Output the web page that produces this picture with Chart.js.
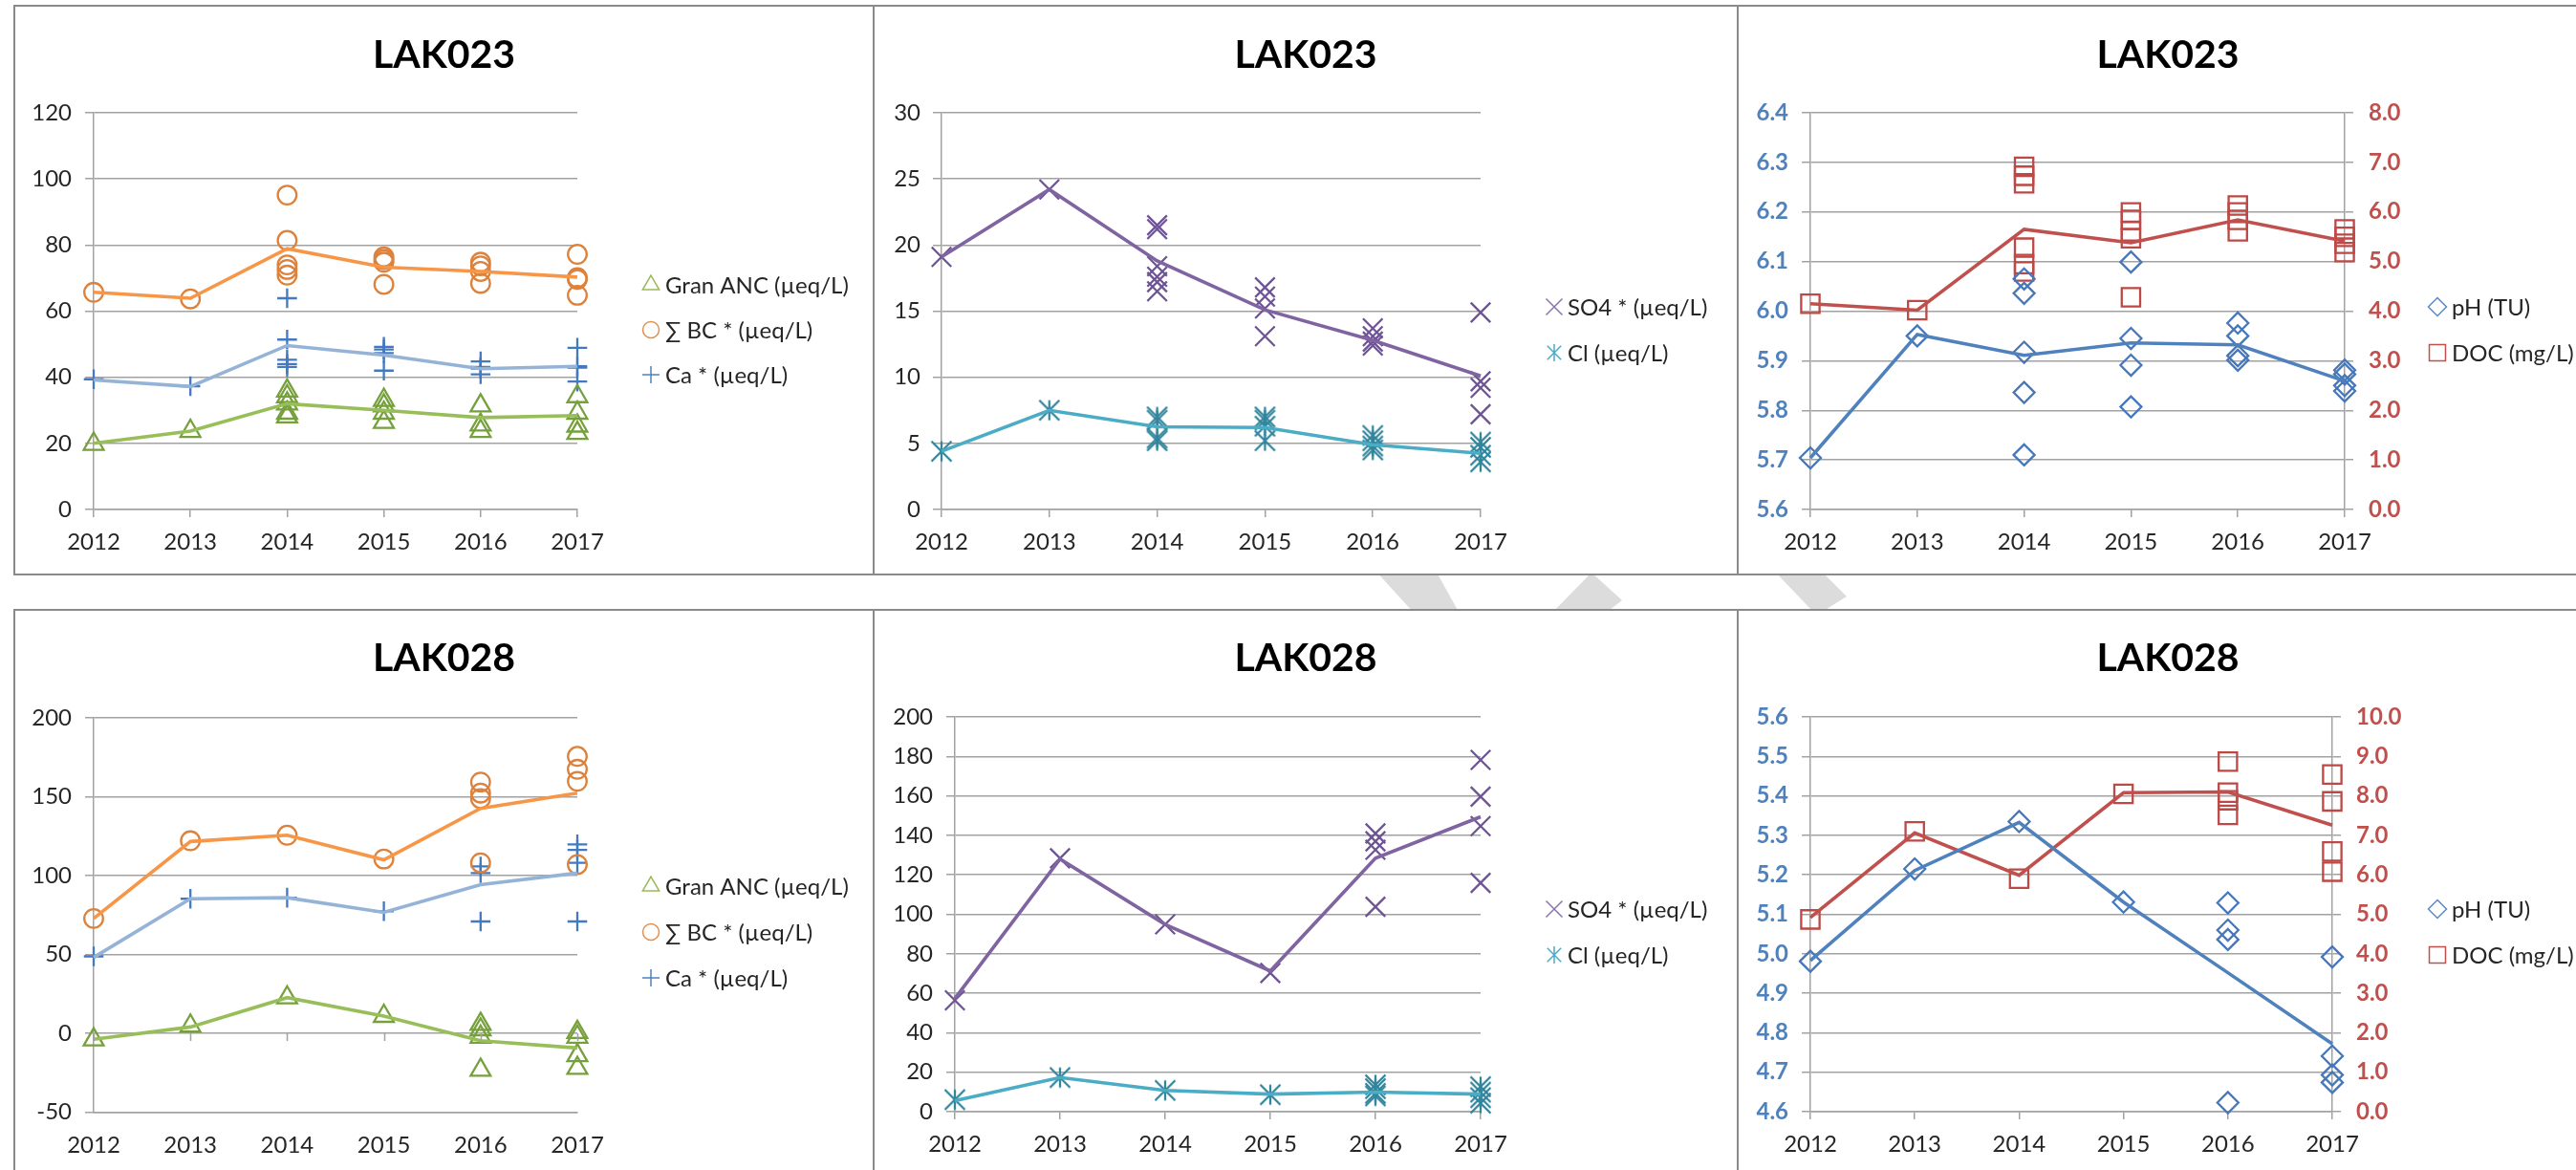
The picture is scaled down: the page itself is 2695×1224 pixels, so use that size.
<!DOCTYPE html>
<html>
<head>
<meta charset="utf-8">
<title>LAK023 / LAK028 water chemistry 2012–2017</title>
<script src="https://cdn.jsdelivr.net/npm/chart.js@4.4.0/dist/chart.umd.min.js"></script>
<style>
  html, body { margin: 0; padding: 0; background: #ffffff; }
  body { width: 2695px; height: 1224px; position: relative; overflow: hidden; }
  #mark { position: absolute; left: 0; top: 0; }
  .panel { position: absolute; border: 2px solid #8a8a8a; background: #ffffff; }
  .panel canvas { display: block; }
</style>
</head>
<body>
<svg id="mark" width="2695" height="1224">
  <g fill="#dcdcdc">
    <polygon points="1437,595 1501,595 1527,642 1480,642"/>
    <polygon points="1665,599 1697,628 1679,642 1623,642"/>
    <polygon points="1854,595 1903,595 1932,624 1903,642 1899,642"/>
  </g>
</svg>
<div class="panel" style="left:14px;top:5px;"><canvas id="c1" width="897" height="593"></canvas></div>
<div class="panel" style="left:913px;top:5px;"><canvas id="c2" width="902" height="593"></canvas></div>
<div class="panel" style="left:1817px;top:5px;"><canvas id="c3" width="898" height="593"></canvas></div>
<div class="panel" style="left:14px;top:637px;"><canvas id="c4" width="897" height="600"></canvas></div>
<div class="panel" style="left:913px;top:637px;"><canvas id="c5" width="902" height="600"></canvas></div>
<div class="panel" style="left:1817px;top:637px;"><canvas id="c6" width="898" height="600"></canvas></div>

<script>
// ---- Sampling years ----
const years = [2012, 2013, 2014, 2015, 2016, 2017];

// ---- LAK023: individual samples per year and annual mean line ----
const lak023AncSamples = [[19.8], [23.7], [35.9, 34.2, 32.0, 29.2, 28.1], [33.1, 31.4, 29.2, 26.4], [31.4, 25.6, 23.7], [34.2, 29.2, 25.3, 23.1]];
const lak023AncLine    = [20.0, 23.7, 32.0, 30.0, 27.8, 28.4];
const lak023BcSamples  = [[65.7], [63.7], [95.1, 81.4, 74.0, 72.6, 70.9], [76.4, 75.6, 74.8, 68.1], [74.8, 73.7, 72.0, 68.4], [77.2, 70.1, 69.6, 64.8]];
const lak023BcLine     = [65.7, 63.9, 78.9, 73.3, 72.0, 70.3];
const lak023CaSamples  = [[39.4], [37.3], [63.9, 51.4, 45.3, 44.0, 43.1], [49.2, 48.4, 47.3, 42.0], [44.8, 43.1, 42.6, 40.9], [48.9, 43.3, 42.9, 38.7]];
const lak023CaLine     = [39.2, 37.2, 49.6, 46.7, 42.6, 43.3];

const lak023So4Samples = [[19.1], [24.2], [21.5, 21.2, 18.4, 17.6, 17.2, 16.5], [16.8, 16.1, 15.2, 13.1], [13.7, 13.1, 12.7, 12.4], [14.9, 9.7, 9.2, 7.2]];
const lak023So4Line    = [19.1, 24.2, 18.8, 15.1, 12.8, 10.1];
const lak023ClSamples  = [[4.4], [7.5], [7.0, 6.75, 5.4, 5.2], [7.0, 6.75, 6.3, 5.2], [5.6, 5.2, 4.8, 4.5], [5.1, 4.7, 4.1, 3.6]];
const lak023ClLine     = [4.4, 7.5, 6.25, 6.2, 4.9, 4.25];

const lak023PhSamples  = [[5.704], [5.950], [6.065, 6.036, 5.917, 5.836, 5.710], [6.099, 5.945, 5.891, 5.807], [5.976, 5.950, 5.910, 5.901], [5.881, 5.873, 5.850, 5.839]];
const lak023PhLine     = [5.704, 5.953, 5.911, 5.936, 5.932, 5.859];
const lak023DocSamples = [[4.15], [4.02], [6.91, 6.73, 6.58, 5.28, 4.95, 4.80], [5.99, 5.84, 5.61, 5.47, 4.28], [6.13, 5.99, 5.84, 5.61], [5.65, 5.50, 5.36, 5.19]];
const lak023DocLine    = [4.15, 4.02, 5.65, 5.38, 5.84, 5.41];

// ---- LAK028 ----
const lak028AncSamples = [[-4.0], [4.7], [22.6], [10.9], [5.8, 2.3, -2.3, -23.3], [0.7, -2.3, -14.0, -22.1]];
const lak028AncLine    = [-3.8, 4.0, 22.6, 10.9, -4.7, -9.3];
const lak028BcSamples  = [[72.8], [122.1], [125.6], [110.5], [159.3, 152.3, 148.8, 108.1], [175.6, 167.4, 159.8, 107.0]];
const lak028BcLine     = [72.8, 121.6, 125.6, 110.0, 142.6, 152.3];
const lak028CaSamples  = [[48.8], [85.3], [86.0], [77.4], [105.8, 101.6, 70.9], [119.8, 116.3, 108.1, 70.9]];
const lak028CaLine     = [48.1, 85.3, 86.0, 76.7, 94.2, 101.6];

const lak028So4Samples = [[56.4], [128.4], [94.9], [70.3], [141.0, 137.0, 132.7, 103.8], [178.2, 159.6, 144.7, 115.9]];
const lak028So4Line    = [57.3, 128.0, 94.9, 71.3, 128.4, 149.4];
const lak028ClSamples  = [[6.1], [17.3], [10.8], [8.6], [13.6, 11.7, 9.3, 8.0], [12.7, 9.9, 7.1, 4.3]];
const lak028ClLine     = [5.6, 17.3, 10.8, 8.9, 9.9, 8.9];

const lak028PhSamples  = [[4.981], [5.215], [5.335], [5.131], [5.129, 5.060, 5.036, 4.623], [4.992, 4.741, 4.693, 4.674]];
const lak028PhLine     = [4.983, 5.211, 5.333, 5.131, 4.952, 4.772];
const lak028DocSamples = [[4.87], [7.10], [5.90], [8.05], [8.87, 8.08, 7.89, 7.52], [8.54, 7.86, 6.59, 6.08]];
const lak028DocLine    = [4.92, 7.06, 5.99, 8.08, 8.10, 7.26];

// ---- Legend labels ----
const labelAnc = 'Gran ANC (µeq/L)';
const labelBc  = '∑ BC * (µeq/L)';
const labelCa  = 'Ca * (µeq/L)';
const labelSo4 = 'SO4 * (µeq/L)';
const labelCl  = 'Cl (µeq/L)';
const labelPh  = 'pH (TU)';
const labelDoc = 'DOC (mg/L)';

// ---- Styling ----
const FONT = "Lato, 'Open Sans', 'DejaVu Sans', sans-serif";
const GRID = '#a2a2a2';
const TEXT = '#262626';

// Excel-style "star" marker: an X with a vertical bar through it
function starMarker(color, r, lw) {
  const s = Math.ceil(2 * r + 2 * lw + 2);
  const c = document.createElement('canvas');
  c.width = s; c.height = s;
  const g = c.getContext('2d');
  const m = s / 2;
  g.strokeStyle = color; g.lineWidth = lw;
  g.beginPath();
  g.moveTo(m, m - r); g.lineTo(m, m + r);
  g.moveTo(m - r, m - r); g.lineTo(m + r, m + r);
  g.moveTo(m + r, m - r); g.lineTo(m - r, m + r);
  g.stroke();
  return c;
}

const STYLE = {
  anc: { shape: 'triangle', r: 12,   marker: '#76A03C', line: '#98BE5A', legend: '#9BBB59' },
  bc:  { shape: 'circle',   r: 9.8,  marker: '#DC823C', line: '#F79646', legend: '#E2904E' },
  ca:  { shape: 'cross',    r: 10.3, marker: '#4279C0', line: '#95B3D7', legend: '#4F81BD' },
  so4: { shape: 'crossRot', r: 14.5, marker: '#6E5494', line: '#8064A2', legend: '#8B74AC' },
  cl:  { shape: 'star',     r: 10.5, marker: '#31859C', line: '#4BACC6', legend: '#4BACC6' },
  ph:  { shape: 'rectRot',  r: 11,   marker: '#4677BA', line: '#4F81BD', legend: '#5B8AC4' },
  doc: { shape: 'rect',     r: 13.6, marker: '#BC4946', line: '#C0504D', legend: '#C0504D' }
};

function samplePoints(samples) {
  return samples.flatMap((vals, i) => vals.map(v => ({ x: years[i], y: v })));
}
function linePoints(vals) {
  return vals.map((v, i) => ({ x: years[i], y: v }));
}

// Outline marker used for the side legend
function drawMarker(ctx, shape, x, y, r, color, lw) {
  ctx.save();
  ctx.strokeStyle = color; ctx.lineWidth = lw;
  ctx.beginPath();
  const d = r * Math.SQRT1_2;
  switch (shape) {
    case 'triangle':
      ctx.moveTo(x, y - r); ctx.lineTo(x + 0.866 * r, y + 0.5 * r); ctx.lineTo(x - 0.866 * r, y + 0.5 * r); ctx.closePath(); break;
    case 'circle':
      ctx.arc(x, y, r, 0, Math.PI * 2); break;
    case 'cross':
      ctx.moveTo(x - r, y); ctx.lineTo(x + r, y); ctx.moveTo(x, y - r); ctx.lineTo(x, y + r); break;
    case 'crossRot':
      ctx.moveTo(x - d, y - d); ctx.lineTo(x + d, y + d); ctx.moveTo(x + d, y - d); ctx.lineTo(x - d, y + d); break;
    case 'star':
      ctx.moveTo(x, y - r); ctx.lineTo(x, y + r);
      ctx.moveTo(x - r * 0.8, y - r * 0.8); ctx.lineTo(x + r * 0.8, y + r * 0.8);
      ctx.moveTo(x + r * 0.8, y - r * 0.8); ctx.lineTo(x - r * 0.8, y + r * 0.8); break;
    case 'rectRot':
      ctx.moveTo(x, y - r); ctx.lineTo(x + r, y); ctx.lineTo(x, y + r); ctx.lineTo(x - r, y); ctx.closePath(); break;
    case 'rect':
      ctx.rect(x - d, y - d, 2 * d, 2 * d); break;
  }
  ctx.stroke();
  ctx.restore();
}

function seriesDatasets(key, samples, line, label, axis) {
  const st = STYLE[key];
  const pointStyle = st.shape === 'star' ? starMarker(st.marker, st.r, 2.3) : st.shape;
  return [
    {
      label: label,
      data: samplePoints(samples),
      yAxisID: axis,
      showLine: false,
      pointStyle: pointStyle,
      pointRadius: st.r,
      pointBorderColor: st.marker,
      pointBackgroundColor: 'rgba(0,0,0,0)',
      pointBorderWidth: 2.3,
      clip: false,
      order: 1
    },
    {
      label: label + ' mean',
      data: linePoints(line),
      yAxisID: axis,
      showLine: true,
      borderColor: st.line,
      borderWidth: 3.6,
      pointRadius: 0,
      tension: 0,
      fill: false,
      clip: false,
      order: 0
    }
  ];
}

function fmt(dec) { return v => Number(v).toFixed(dec); }

function buildPanel(p) {
  const canvas = document.getElementById(p.id);
  const W = canvas.width, H = canvas.height;
  const X_H = 60, R_W = 100;
  const datasets = p.series.flatMap(s => seriesDatasets(s.key, s.samples, s.line, s.label, s.axis || 'y'));

  const scales = {
    x: {
      type: 'linear', min: 2012, max: 2017,
      ticks: {
        stepSize: 1, autoSkip: false, maxRotation: 0, padding: 12, color: TEXT,
        font: { family: FONT, size: 24 },
        callback: v => String(v)
      },
      grid: {
        display: true, drawOnChartArea: false, drawTicks: true, tickLength: 8,
        color: p.zeroTicks ? 'rgba(0,0,0,0)' : GRID, lineWidth: 1.5
      },
      border: { display: true, color: GRID, width: 1.5 },
      afterFit: s => { s.height = X_H; }
    },
    y: {
      type: 'linear', position: 'left', min: p.yL.min, max: p.yL.max,
      ticks: {
        stepSize: p.yL.step, padding: p.yL.pad || 14, color: p.yL.color || TEXT,
        font: { family: FONT, size: 24, weight: p.yL.bold ? 'bold' : 'normal' },
        callback: fmt(p.yL.dec)
      },
      grid: { color: GRID, lineWidth: 1.5, tickLength: 9, drawTicks: true },
      border: { display: true, color: GRID, width: 1.5 },
      afterFit: s => { s.width = p.plotLeft; }
    }
  };
  let padRight = W - p.plotRight;
  if (p.yR) {
    scales.y2 = {
      type: 'linear', position: 'right', min: p.yR.min, max: p.yR.max,
      ticks: {
        stepSize: p.yR.step, padding: 16, color: p.yR.color,
        font: { family: FONT, size: 24, weight: 'bold' },
        callback: fmt(p.yR.dec)
      },
      grid: { drawOnChartArea: false, color: GRID, lineWidth: 1.5, tickLength: 9, drawTicks: true },
      border: { display: true, color: GRID, width: 1.5 },
      afterFit: s => { s.width = R_W; }
    };
    padRight = W - p.plotRight - R_W;
  }

  const panelText = {
    id: 'panelText',
    afterDraw(chart) {
      const ctx = chart.ctx;
      ctx.save();
      // title
      ctx.fillStyle = '#000000';
      ctx.font = 'bold 41px ' + FONT;
      ctx.textAlign = 'center';
      ctx.textBaseline = 'middle';
      ctx.fillText(p.title, W / 2, p.titleY);
      // side legend
      ctx.font = '24px ' + FONT;
      ctx.textAlign = 'left';
      ctx.fillStyle = TEXT;
      p.series.forEach((s, i) => {
        const st = STYLE[s.key];
        const y = p.legend.ys[i];
        const lr = { triangle: 10, circle: 8.5, cross: 9, crossRot: 12, star: 9, rectRot: 9.5, rect: 12 }[st.shape];
        drawMarker(ctx, st.shape, p.legend.mx, y, lr, st.legend, 1.5);
        ctx.fillText(s.label, p.legend.tx, y + 1);
      });
      // category tick marks on the zero line
      if (p.zeroTicks) {
        const xs = chart.scales.x, ys = chart.scales.y;
        const y0 = ys.getPixelForValue(0);
        ctx.strokeStyle = GRID; ctx.lineWidth = 1.5;
        ctx.beginPath();
        years.forEach(yr => {
          const x = Math.round(xs.getPixelForValue(yr)) + 0.5;
          ctx.moveTo(x, y0); ctx.lineTo(x, y0 + 8);
        });
        ctx.stroke();
      }
      ctx.restore();
    }
  };

  return new Chart(canvas, {
    type: 'scatter',
    data: { datasets },
    options: {
      responsive: false,
      animation: false,
      devicePixelRatio: 1,
      events: [],
      layout: { padding: { left: 0, top: p.plotTop, right: padRight, bottom: H - p.plotBottom - X_H } },
      plugins: { legend: { display: false }, title: { display: false }, tooltip: { enabled: false } },
      scales
    },
    plugins: [panelText]
  });
}

const BLUE_AXIS = '#4F81BD';
const RED_AXIS = '#C0504D';

buildPanel({
  id: 'c1', title: 'LAK023', titleY: 51, plotLeft: 82, plotRight: 588, plotTop: 111, plotBottom: 526,
  yL: { min: 0, max: 120, step: 20, dec: 0 },
  legend: { mx: 665, tx: 680, ys: [291, 338, 385] },
  series: [
    { key: 'anc', samples: lak023AncSamples, line: lak023AncLine, label: labelAnc },
    { key: 'bc',  samples: lak023BcSamples,  line: lak023BcLine,  label: labelBc },
    { key: 'ca',  samples: lak023CaSamples,  line: lak023CaLine,  label: labelCa }
  ]
});
buildPanel({
  id: 'c2', title: 'LAK023', titleY: 51, plotLeft: 70, plotRight: 634, plotTop: 111, plotBottom: 526,
  yL: { min: 0, max: 30, step: 5, dec: 0, pad: 13 },
  legend: { mx: 711, tx: 725, ys: [314, 362] },
  series: [
    { key: 'so4', samples: lak023So4Samples, line: lak023So4Line, label: labelSo4 },
    { key: 'cl',  samples: lak023ClSamples,  line: lak023ClLine,  label: labelCl }
  ]
});
buildPanel({
  id: 'c3', title: 'LAK023', titleY: 51, plotLeft: 75, plotRight: 634, plotTop: 111, plotBottom: 526,
  yL: { min: 5.6, max: 6.4, step: 0.1, dec: 1, color: BLUE_AXIS, bold: true },
  yR: { min: 0, max: 8, step: 1, dec: 1, color: RED_AXIS },
  legend: { mx: 731, tx: 746, ys: [314, 362] },
  series: [
    { key: 'ph',  samples: lak023PhSamples,  line: lak023PhLine,  label: labelPh },
    { key: 'doc', samples: lak023DocSamples, line: lak023DocLine, label: labelDoc, axis: 'y2' }
  ]
});
buildPanel({
  id: 'c4', title: 'LAK028', titleY: 50, plotLeft: 82, plotRight: 588, plotTop: 112, plotBottom: 524.5, zeroTicks: true,
  yL: { min: -50, max: 200, step: 50, dec: 0 },
  legend: { mx: 665, tx: 680, ys: [288, 336, 384] },
  series: [
    { key: 'anc', samples: lak028AncSamples, line: lak028AncLine, label: labelAnc },
    { key: 'bc',  samples: lak028BcSamples,  line: lak028BcLine,  label: labelBc },
    { key: 'ca',  samples: lak028CaSamples,  line: lak028CaLine,  label: labelCa }
  ]
});
buildPanel({
  id: 'c5', title: 'LAK028', titleY: 50, plotLeft: 84, plotRight: 634, plotTop: 111, plotBottom: 524,
  yL: { min: 0, max: 200, step: 20, dec: 0 },
  legend: { mx: 711, tx: 725, ys: [312, 360] },
  series: [
    { key: 'so4', samples: lak028So4Samples, line: lak028So4Line, label: labelSo4 },
    { key: 'cl',  samples: lak028ClSamples,  line: lak028ClLine,  label: labelCl }
  ]
});
buildPanel({
  id: 'c6', title: 'LAK028', titleY: 50, plotLeft: 75, plotRight: 621, plotTop: 111, plotBottom: 524,
  yL: { min: 4.6, max: 5.6, step: 0.1, dec: 1, color: BLUE_AXIS, bold: true },
  yR: { min: 0, max: 10, step: 1, dec: 1, color: RED_AXIS },
  legend: { mx: 731, tx: 746, ys: [312, 360] },
  series: [
    { key: 'ph',  samples: lak028PhSamples,  line: lak028PhLine,  label: labelPh },
    { key: 'doc', samples: lak028DocSamples, line: lak028DocLine, label: labelDoc, axis: 'y2' }
  ]
});
</script>
</body>
</html>
